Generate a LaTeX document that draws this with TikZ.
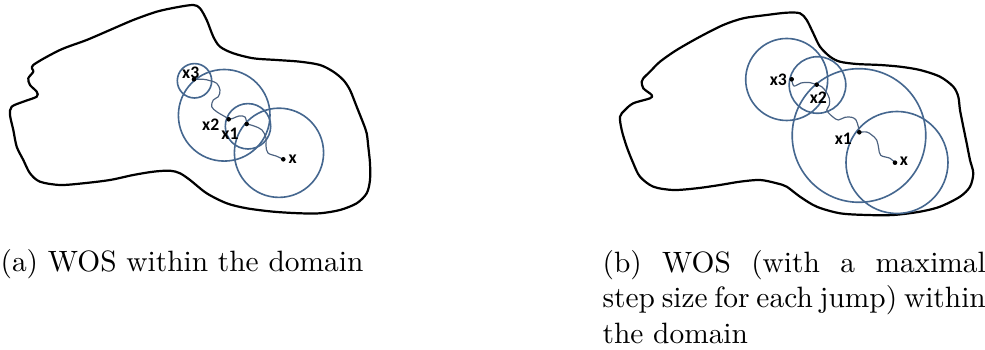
\documentclass[tikz,border=0pt]{standalone}
\usepackage{fontspec}
\usepackage{xcolor}
\usepackage{tikz}
\usetikzlibrary{positioning}
\newfontfamily\lblfont{Carlito}
\definecolor{ballc}{HTML}{45678F}
\definecolor{walkc}{HTML}{4C6280}

\begin{document}
\begin{tikzpicture}[x=0.34pt,y=-0.34pt,
  dom/.style={draw=black,line width=0.75pt,line join=round},
  ball/.style={draw=ballc,line width=0.55pt},
  walk/.style={draw=walkc,line width=0.4pt},
  wdot/.style={fill=black},
  lbl/.style={inner sep=0pt,font=\lblfont\bfseries\fontsize{6}{7}\selectfont},
  captxt/.style={inner sep=0pt,font=\normalsize}]
  \useasboundingbox (0,0) rectangle (985,350);

  % (a) plain walk on spheres
  \draw[dom] plot[smooth cycle,tension=0.5] coordinates {
    (33.3,65) (60,50) (86.7,40) (110,30) (133.3,20) (156.7,11.7) (176.7,7.3)
    (193.3,5) (200,8.3) (206.7,20) (213.3,36.7) (220,46.7) (233.3,53.3)
    (253.3,58.3) (276.7,60) (300,61.7) (320,65) (333.3,71.7) (343.3,80)
    (350,90) (356.7,106.7) (363.3,123.3) (366.7,133.3) (368.3,146.7)
    (370,163.3) (370,180) (366.7,193.3) (356.7,203.3) (340,210) (320,213.3)
    (300,213.3) (273.3,211.7) (246.7,208.3) (226.7,203.3) (206.7,193.3)
    (190,180) (180,173.3) (170,170.7) (153.3,171.7) (133.3,175) (110,180)
    (83.3,183.3) (60,185) (40,181.7) (30,173.3) (23.3,160) (16.7,146.7)
    (13.3,130) (10,115) (11.7,106.7) (23.3,101.7) (36.7,96.7) (36.7,91.7)
    (30,85) (28.3,78.3) (33.3,71.7)};

  \coordinate (ax)  at (283.3,159.3);
  \coordinate (ax1) at (246.7,124);
  \coordinate (ax2) at (228.7,119.3);
  \coordinate (ax3) at (194,79.3);

  \draw[ball] (194.5,80.8) circle[radius=17.2];
  \draw[ball] (224.2,115.3) circle[radius=45.8];
  \draw[ball] (248,126.3) circle[radius=22.7];
  \draw[ball] (279,152.8) circle[radius=44.6];

  \draw[walk] plot[smooth,tension=0.6] coordinates {(ax) (276,156) (268,153)
    (266,146) (266,138) (262,130) (254,126) (ax1)};
  \draw[walk] plot[smooth,tension=0.6] coordinates {(ax1) (245,117) (239,116)
    (232.7,118.5) (ax2)};
  \draw[walk] plot[smooth,tension=0.6] coordinates {(ax2) (225,116.7)
    (216.7,111.7) (211.7,106.7) (213.3,100) (218.3,96.7) (220,90)
    (216.7,83.3) (210,80.7) (203.3,79.3) (ax3)};

  \foreach \p in {ax,ax1,ax2,ax3}
    \fill[wdot] (\p) circle[radius=2.3];

  \node[lbl] (lax)  at (292.7,159.5) {x};
  \node[lbl] (lax1) at (230,134)     {x1};
  \node[lbl] (lax2) at (210.7,125)   {x2};
  \node[lbl] (lax3) at (190.7,72.7)  {x3};

  % (b) maximal step for each jump
  \draw[dom] plot[smooth cycle,tension=0.5] coordinates {
    (650,71.7) (660,61.7) (676.7,50) (700,36.7) (723.3,25) (743.3,18.3)
    (766.7,15) (786.7,12.7) (800,13.3) (806.7,20) (813.3,33.3) (820,46.7)
    (830,56.7) (840,61.7) (856.7,64) (880,65) (900,66.7) (920,70)
    (940,76.7) (953.3,86.7) (958.3,96.7) (960,110) (963.3,126.7)
    (966.7,143.3) (970,160) (973.3,173.3) (970,186.7) (960,196.7)
    (940,206.7) (920,211.7) (893.3,215) (866.7,215) (840,213.3)
    (816.7,206.7) (800,196.7) (786.7,186.7) (776.7,183.3) (760,180)
    (740,181.7) (720,185) (696.7,188.3) (673.3,190) (653.3,186.7)
    (640,176.7) (633.3,163.3) (626.7,146.7) (621.7,130) (620,116.7)
    (625,110) (633.3,103.3) (650,98.3) (651.7,95) (643.3,88.3)
    (641.7,81.7) (643.3,78.3)};

  \coordinate (bx)  at (895,162.7);
  \coordinate (bx1) at (859.3,132.3);
  \coordinate (bx2) at (816.7,84.7);
  \coordinate (bx3) at (791.7,79.3);

  \draw[ball] (786.7,79.5) circle[radius=41];
  \draw[ball] (817.5,85)   circle[radius=28.3];
  \draw[ball] (859,135.5)  circle[radius=66.8];
  \draw[ball] (897,162.5)  circle[radius=51];

  \draw[walk] plot[smooth,tension=0.6] coordinates {(bx) (890,158.3)
    (880.7,155.3) (878.7,148.3) (876.7,140) (871.7,135) (866.7,132) (bx1)};
  \draw[walk] plot[smooth,tension=0.6] coordinates {(bx1) (858.3,126.7)
    (856,120) (851.7,117.3) (845,117.3) (838.3,120) (833.3,117.3)
    (828.3,112.7) (826.7,110) (829.3,105) (829.3,98.3) (826,91.7)
    (821.7,86.7) (bx2)};
  \draw[walk] plot[smooth,tension=0.6] coordinates {(bx2) (809,82.5)
    (801,83) (794,86) (bx3)};

  \foreach \p in {bx,bx1,bx2,bx3}
    \fill[wdot] (\p) circle[radius=2.3];

  \node[lbl] (lbx)  at (904,161.7)  {x};
  \node[lbl] (lbx1) at (843.3,138.3) {x1};
  \node[lbl] (lbx2) at (818.3,97.3) {x2};
  \node[lbl] (lbx3) at (778.3,80)   {x3};

  % captions
  \node[captxt,anchor=base west] (capa) at (0,272) {(a) WOS within the domain};
  \node[captxt,anchor=north west,text width=130.3pt,align=justify] (capb)
    at (602,249.9) {(b) WOS (with a maximal\linebreak step size for each
    jump) within\linebreak the domain};
\end{tikzpicture}
\end{document}
